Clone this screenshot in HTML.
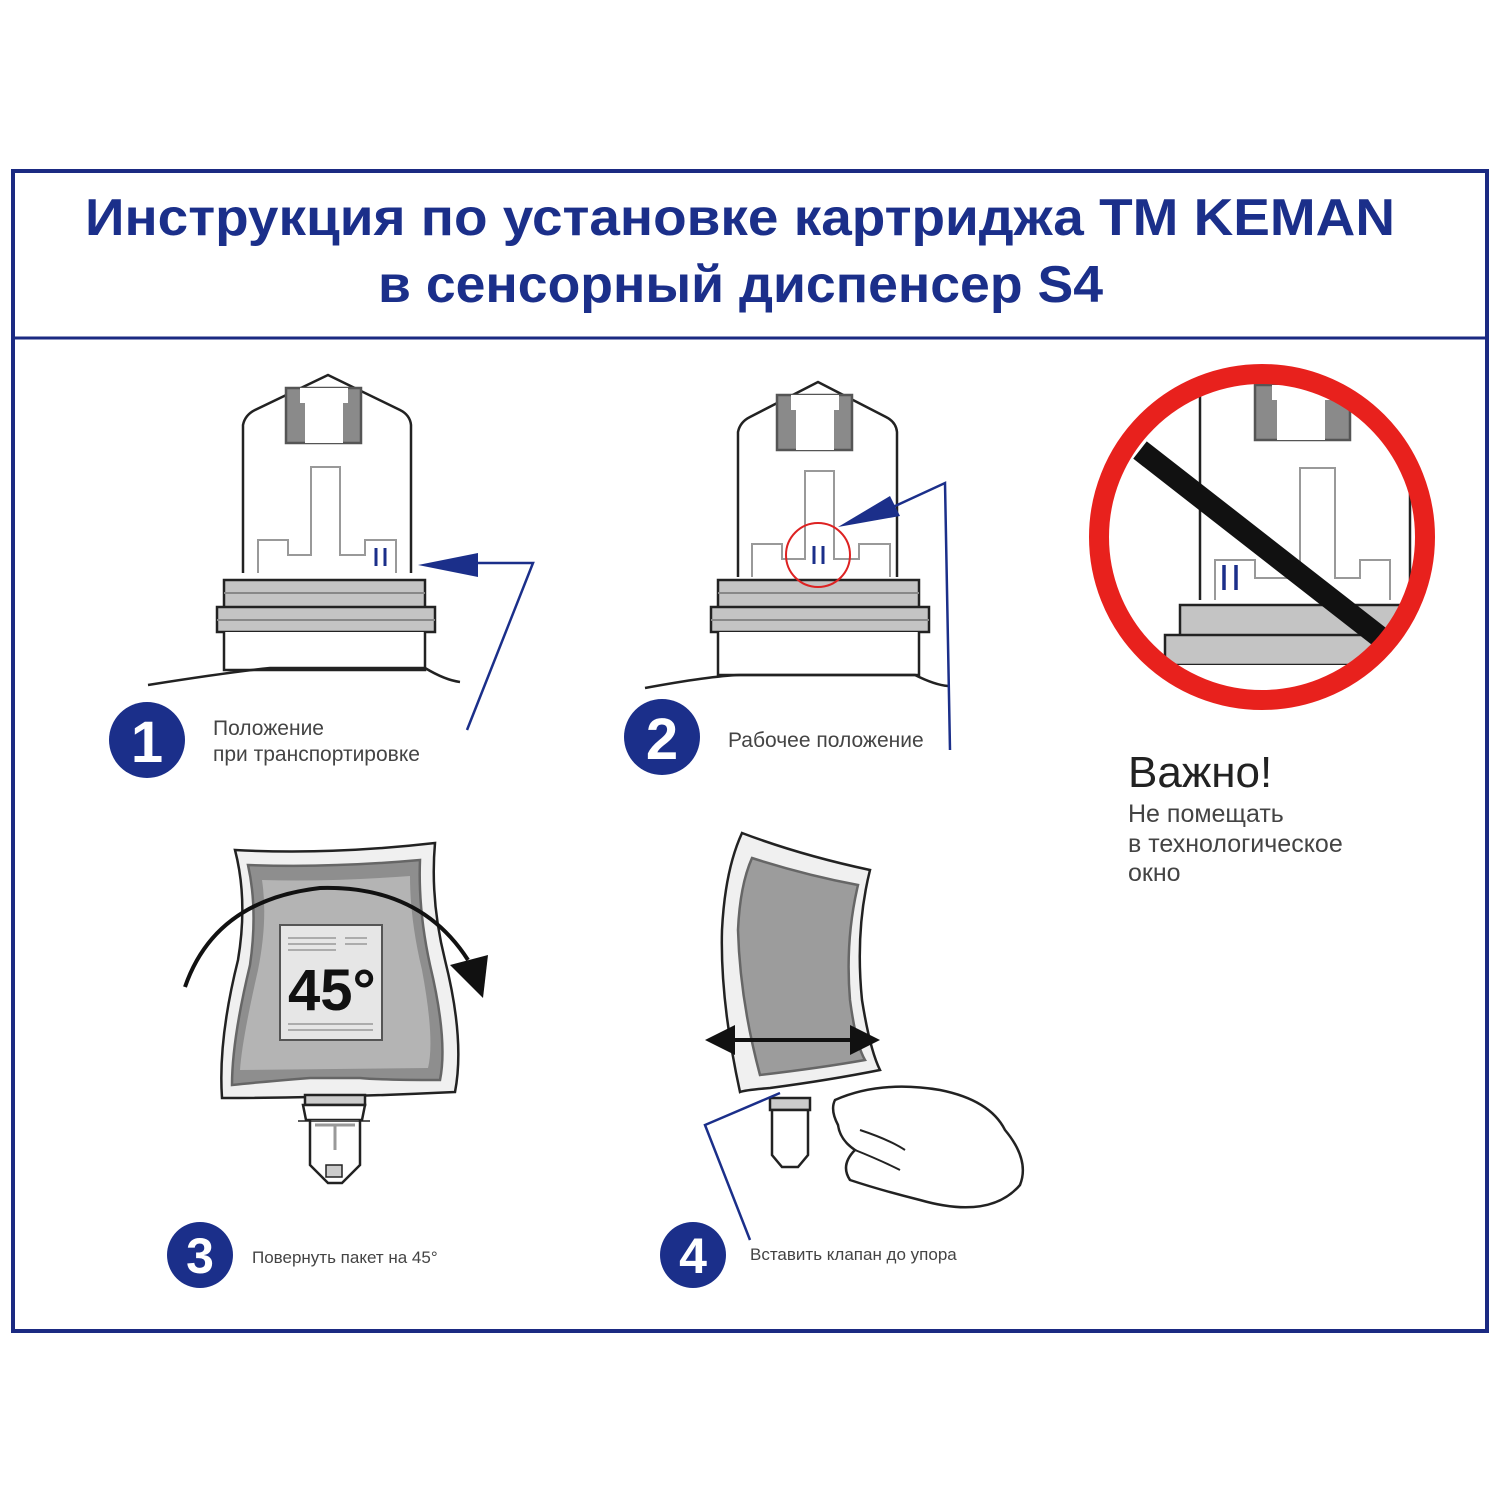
<!DOCTYPE html>
<html><head><meta charset="utf-8"><style>body{margin:0;background:#fff}svg{display:block}</style></head>
<body>
<svg width="1500" height="1500" viewBox="0 0 1500 1500" xmlns="http://www.w3.org/2000/svg" font-family="Liberation Sans, DejaVu Sans, sans-serif">
<rect x="13" y="171" width="1474" height="1160" fill="none" stroke="#1b2a82" stroke-width="4"/>
<line x1="13" y1="338" x2="1487" y2="338" stroke="#1b2a82" stroke-width="3"/>
<text x="85" y="235" font-size="52" font-weight="bold" fill="#1b2f8a" textLength="1310" lengthAdjust="spacingAndGlyphs">Инструкция по установке картриджа ТМ KEMAN</text>
<text x="378" y="302" font-size="52" font-weight="bold" fill="#1b2f8a" textLength="725" lengthAdjust="spacingAndGlyphs">в  сенсорный диспенсер S4</text>

<!-- Drawing 1 -->
<g stroke="#222" stroke-width="2.5" fill="#fff">
<path d="M243,573 L243,425 Q245,415 255,410 L328,375 L400,410 Q410,415 411,425 L411,573"/>
<path d="M286,388 h75 v55 h-75 z" fill="#8a8a8a" stroke="#555"/>
<path d="M300,388 v15 h5 v40 h38 v-40 h5 v-15 z" fill="#fff" stroke="none"/>
<path d="M258,573 v-33 h30 v15 h23 v-88 h29 v88 h25 v-15 h31 v33" fill="none" stroke="#999" stroke-width="2"/>
<path d="M224,580 h201 v27 h-201 z M217,607 h218 v25 h-218 z" fill="#c4c4c4"/>
<line x1="224" y1="593" x2="425" y2="593" stroke="#888" stroke-width="2"/>
<line x1="217" y1="620" x2="435" y2="620" stroke="#888" stroke-width="2"/>
<path d="M224,632 v38 h201 v-38"/>
<path d="M148,685 Q230,672 270,668 L425,668 Q445,680 460,682" fill="none"/>
</g>
<path d="M376,548 v18 M385,548 v18" stroke="#1b2f8a" stroke-width="3"/>
<path d="M418,565 L478,553 L478,577 z" fill="#1b2f8a"/>
<path d="M475,563 L533,563 L467,730" fill="none" stroke="#1b2f8a" stroke-width="2.5"/>
<circle cx="147" cy="740" r="38" fill="#1b2f8a"/>
<text x="147" y="762" font-size="58" font-weight="bold" fill="#fff" text-anchor="middle">1</text>
<text x="213" y="735" font-size="21" fill="#444">Положение</text>
<text x="213" y="761" font-size="21" fill="#444">при транспортировке</text>

<!-- Drawing 2 -->
<g stroke="#222" stroke-width="2.5" fill="#fff">
<path d="M738,577 L738,432 Q740,422 750,417 L818,382 L886,417 Q896,422 897,432 L897,577"/>
<path d="M777,395 h75 v55 h-75 z" fill="#8a8a8a" stroke="#555"/>
<path d="M791,395 v15 h5 v40 h38 v-40 h5 v-15 z" fill="#fff" stroke="none"/>
<path d="M752,577 v-33 h30 v15 h23 v-88 h29 v88 h25 v-15 h31 v33" fill="none" stroke="#999" stroke-width="2"/>
<path d="M718,580 h201 v27 h-201 z M711,607 h218 v25 h-218 z" fill="#c4c4c4"/>
<line x1="718" y1="593" x2="919" y2="593" stroke="#888" stroke-width="2"/>
<line x1="711" y1="620" x2="929" y2="620" stroke="#888" stroke-width="2"/>
<path d="M718,632 v43 h201 v-43"/>
<path d="M645,688 Q710,676 740,675 L915,675 Q935,685 948,686" fill="none"/>
</g>
<path d="M814,546 v18 M823,546 v18" stroke="#1b2f8a" stroke-width="3"/>
<circle cx="818" cy="555" r="32" fill="none" stroke="#d22" stroke-width="2"/>
<path d="M838,527 L890,496 L900,516 z" fill="#1b2f8a"/>
<path d="M893,507 L945,483 L950,750" fill="none" stroke="#1b2f8a" stroke-width="2.5"/>
<circle cx="662" cy="737" r="38" fill="#1b2f8a"/>
<text x="662" y="759" font-size="58" font-weight="bold" fill="#fff" text-anchor="middle">2</text>
<text x="728" y="747" font-size="21" fill="#444">Рабочее положение</text>

<!-- Drawing 3: no entry -->
<defs><clipPath id="c"><circle cx="1262" cy="537" r="160"/></clipPath></defs>
<g clip-path="url(#c)" stroke="#222" stroke-width="2.5" fill="#fff">
<path d="M1200,600 L1200,380 M1410,600 L1410,380" fill="none"/>
<path d="M1255,385 h95 v55 h-95 z" fill="#8a8a8a" stroke="#555"/>
<path d="M1272,385 v15 h5 v40 h48 v-40 h5 v-15 z" fill="#fff" stroke="none"/>
<path d="M1215,600 v-40 h40 v18 h45 v-110 h35 v110 h25 v-18 h30 v40" fill="none" stroke="#999" stroke-width="2"/>
<path d="M1180,605 h250 v30 h-250 z M1165,635 h270 v30 h-270 z" fill="#c4c4c4"/>
<path d="M1175,665 v60 h250 v-60"/>
</g>
<path d="M1224,565 v25 M1236,565 v25" stroke="#1b2f8a" stroke-width="3.5"/>
<line x1="1140" y1="450" x2="1390" y2="645" stroke="#111" stroke-width="22"/>
<circle cx="1262" cy="537" r="163" fill="none" stroke="#e8211d" stroke-width="20"/>
<text x="1128" y="787" font-size="44" fill="#222">Важно!</text>
<text x="1128" y="822" font-size="25" fill="#444">Не помещать</text>
<text x="1128" y="852" font-size="25" fill="#444">в технологическое</text>
<text x="1128" y="881" font-size="25" fill="#444">окно</text>

<!-- Drawing 4: bag -->
<g stroke="#222" stroke-width="2.5">
<path d="M235,850 Q330,855 435,843 Q430,900 445,960 Q465,1040 455,1092 Q330,1098 222,1098 Q218,1040 238,960 Q248,900 235,850 z" fill="#f0f0f0"/>
<path d="M248,865 Q330,868 420,860 Q418,910 430,965 Q448,1040 440,1080 Q380,1080 360,1078 L310,1078 Q260,1082 232,1085 Q232,1040 250,965 Q258,910 248,865 z" fill="#8e8e8e" stroke="#666"/>
<path d="M262,880 Q330,882 410,876 Q410,920 422,970 Q435,1040 428,1068 L240,1070 Q242,1040 258,970 Q268,920 262,880 z" fill="#b4b4b4" stroke="none"/>
<rect x="280" y="925" width="102" height="115" fill="#e6e6e6" stroke="#555" stroke-width="2"/>
<path d="M288,938 h48 M288,944 h48 M288,950 h48 M345,938 h22 M345,944 h22 M288,1024 h85 M288,1030 h85" stroke="#999" stroke-width="1.5"/>
<path d="M305,1095 h60 v10 h-60 z" fill="#ccc"/>
<path d="M303,1105 h62 l-3,15 h-56 z" fill="#fff"/>
<path d="M310,1120 v45 l18,18 h14 l18,-18 v-45" fill="#fff"/>
<path d="M298,1121 h72" stroke-width="1.5"/>
<path d="M326,1165 h16 v12 h-16 z" fill="#ccc" stroke-width="1.5"/>
</g>
<path d="M315,1125 h40 M335,1125 v25" stroke="#999" stroke-width="3"/>
<text x="288" y="1010" font-size="58" font-weight="bold" fill="#111">45°</text>
<path d="M185,987 Q215,900 320,888 Q420,885 468,960" fill="none" stroke="#111" stroke-width="4"/>
<path d="M450,965 L488,955 L483,998 z" fill="#111"/>
<circle cx="200" cy="1255" r="33" fill="#1b2f8a"/>
<text x="200" y="1273" font-size="50" font-weight="bold" fill="#fff" text-anchor="middle">3</text>
<text x="252" y="1263" font-size="17" fill="#444">Повернуть пакет на 45°</text>

<!-- Drawing 5: side bag + hand -->
<g stroke="#222" stroke-width="2.5">
<path d="M742,833 Q800,855 870,870 Q855,930 862,1000 Q870,1050 880,1070 Q830,1080 770,1088 Q745,1090 740,1092 Q720,1000 722,930 Q725,870 742,833 z" fill="#f0f0f0"/>
<path d="M752,858 Q805,875 858,885 Q845,940 850,1000 Q856,1045 865,1060 Q820,1068 760,1075 Q740,1000 738,930 Q740,885 752,858 z" fill="#9c9c9c" stroke="#666"/>
<path d="M770,1098 h40 v12 h-40 z" fill="#ccc"/>
<path d="M772,1110 h36 v45 l-10,12 h-16 l-10,-12 z" fill="#fff"/>
<path d="M835,1100 Q880,1080 940,1090 Q990,1100 1005,1130 Q1030,1160 1020,1185 Q990,1220 920,1200 Q880,1190 850,1180 Q840,1165 855,1150 Q840,1140 838,1125 Q830,1110 835,1100 z" fill="#fff"/>
<path d="M860,1130 Q890,1140 905,1150 M855,1150 Q880,1160 900,1170" fill="none" stroke-width="2"/>
</g>
<path d="M715,1040 L865,1040" stroke="#111" stroke-width="4"/>
<path d="M705,1040 L735,1025 L735,1055 z M880,1040 L850,1025 L850,1055 z" fill="#111"/>
<path d="M780,1093 L705,1125 L750,1240" fill="none" stroke="#1b2f8a" stroke-width="2.5"/>
<circle cx="693" cy="1255" r="33" fill="#1b2f8a"/>
<text x="693" y="1273" font-size="50" font-weight="bold" fill="#fff" text-anchor="middle">4</text>
<text x="750" y="1260" font-size="17" fill="#444">Вставить клапан до упора</text>
</svg>
</body></html>
